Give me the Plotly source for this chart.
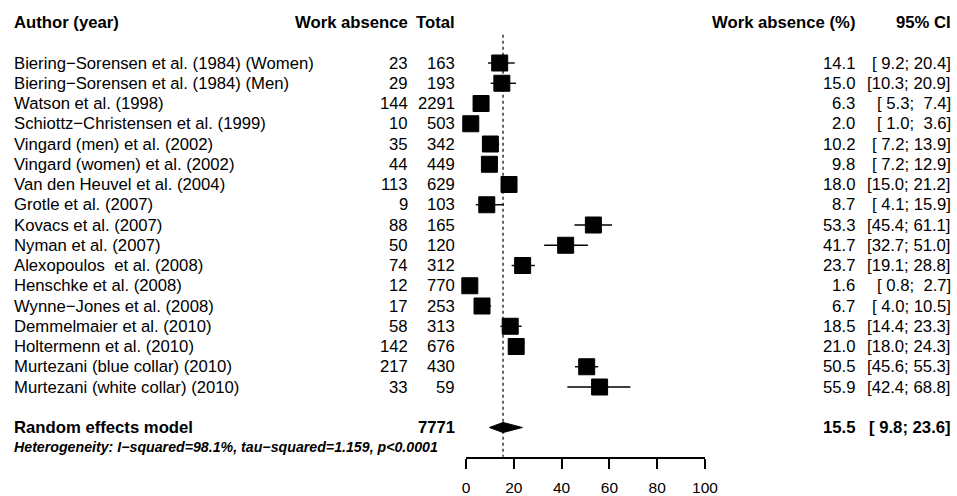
import plotly.graph_objects as go

authors = [
    "Biering\u2212Sorensen et al. (1984) (Women)",
    "Biering\u2212Sorensen et al. (1984) (Men)",
    "Watson et al. (1998)",
    "Schiottz\u2212Christensen et al. (1999)",
    "Vingard (men) et al. (2002)",
    "Vingard (women) et al. (2002)",
    "Van den Heuvel et al. (2004)",
    "Grotle et al. (2007)",
    "Kovacs et al. (2007)",
    "Nyman et al. (2007)",
    "Alexopoulos  et al. (2008)",
    "Henschke et al. (2008)",
    "Wynne\u2212Jones et al. (2008)",
    "Demmelmaier et al. (2010)",
    "Holtermenn et al. (2010)",
    "Murtezani (blue collar) (2010)",
    "Murtezani (white collar) (2010)",
]
events = [23, 29, 144, 10, 35, 44, 113, 9, 88, 50, 74, 12, 17, 58, 142, 217, 33]
totals = [163, 193, 2291, 503, 342, 449, 629, 103, 165, 120, 312, 770, 253, 313, 676, 430, 59]
pct = [14.1, 15.0, 6.3, 2.0, 10.2, 9.8, 18.0, 8.7, 53.3, 41.7, 23.7, 1.6, 6.7, 18.5, 21.0, 50.5, 55.9]
lower = [9.2, 10.3, 5.3, 1.0, 7.2, 7.2, 15.0, 4.1, 45.4, 32.7, 19.1, 0.8, 4.0, 14.4, 18.0, 45.6, 42.4]
upper = [20.4, 20.9, 7.4, 3.6, 13.9, 12.9, 21.2, 15.9, 61.1, 51.0, 28.8, 2.7, 10.5, 23.3, 24.3, 55.3, 68.8]

re_label = "Random effects model"
re_total = 7771
re_est = 15.5
re_lower = 9.8
re_upper = 23.6
heterogeneity = "Heterogeneity: I\u2212squared=98.1%, tau\u2212squared=1.159, p<0.0001"
headers = ["Author (year)", "Work absence", "Total", "Work absence (%)", "95% CI"]
x_ticks = [0, 20, 40, 60, 80, 100]

W, H = 957, 496
FONT = "Liberation Sans, Arial, Helvetica, sans-serif"
FS = 16.7
NB = "\u00a0"


def ci_str(lo, hi):
    a = f"{lo:4.1f}".replace(" ", NB)
    b = f"{hi:4.1f}".replace(" ", NB)
    return f"[{a};{NB}{b}]"


rows = list(range(len(authors)))
re_row = len(authors) + 1  # 18
het_row = re_row + 0.95

y_top = (0 - 63) / 20.25
y_bot = (H - 63) / 20.25

fig = go.Figure()

fig.add_trace(go.Scatter(
    x=pct, y=rows, mode="markers",
    marker=dict(symbol="square", size=16, color="black", line=dict(color="black", width=1)),
    error_x=dict(type="data", symmetric=False,
                 array=[u - p for u, p in zip(upper, pct)],
                 arrayminus=[p - l for p, l in zip(pct, lower)],
                 color="black", thickness=1.4, width=0),
    hoverinfo="skip", showlegend=False, cliponaxis=False,
))

h = 0.25
fig.add_trace(go.Scatter(
    x=[re_lower, re_est, re_upper, re_est, re_lower],
    y=[re_row, re_row - h, re_row, re_row + h, re_row],
    mode="lines", fill="toself", fillcolor="black",
    line=dict(color="black", width=1), hoverinfo="skip", showlegend=False,
))

fig.add_shape(type="line", xref="x", yref="y", x0=re_est, x1=re_est,
              y0=-1.4, y1=19.45, line=dict(color="black", width=1.2, dash="dot"))

x_author = 12 / W
x_events = 410 / W
x_total = 457 / W
x_pct = 857 / W
x_ci = 953 / W

ann = []


def add_text(x, y, text, anchor, bold=False, size=FS, italic=False):
    t = f"<b>{text}</b>" if bold else text
    if italic:
        t = f"<i>{t}</i>"
    ann.append(dict(x=x, y=y, xref="paper", yref="y", text=t, showarrow=False,
                    xanchor=anchor, yanchor="middle",
                    font=dict(family=FONT, size=size, color="black")))


hdr_row = -2.02
add_text(x_author, hdr_row, headers[0], "left", bold=True)
add_text(x_events, hdr_row, headers[1], "right", bold=True)
add_text(x_total, hdr_row, headers[2], "right", bold=True)
add_text(x_pct, hdr_row, headers[3], "right", bold=True)
add_text(x_ci, hdr_row, headers[4], "right", bold=True)

for i in rows:
    add_text(x_author, i, authors[i].replace("  ", NB + NB), "left")
    add_text(x_events, i, str(events[i]), "right")
    add_text(x_total, i, str(totals[i]), "right")
    add_text(x_pct, i, f"{pct[i]:.1f}", "right")
    add_text(x_ci, i, ci_str(lower[i], upper[i]), "right")

add_text(x_author, re_row, re_label, "left", bold=True)
add_text(x_total, re_row, str(re_total), "right", bold=True)
add_text(x_pct, re_row, f"{re_est:.1f}", "right", bold=True)
add_text(x_ci, re_row, ci_str(re_lower, re_upper), "right", bold=True)
add_text(x_author, het_row, heterogeneity, "left", bold=True, italic=True, size=14.2)

fig.update_layout(
    width=W, height=H,
    margin=dict(l=0, r=0, t=0, b=0, autoexpand=False),
    paper_bgcolor="white", plot_bgcolor="white",
    annotations=ann,
    xaxis=dict(domain=[466 / W, 705 / W], range=[0, 100], tickvals=x_ticks,
               showgrid=False, zeroline=False, showline=True, linecolor="black",
               linewidth=1.5, ticks="outside", ticklen=10, tickwidth=1.5,
               tickcolor="black", anchor="free", position=1 - 458 / H,
               tickfont=dict(family=FONT, size=15.5, color="black"),
               ticklabelstandoff=6, automargin=False),
    yaxis=dict(domain=[0, 1], range=[y_bot, y_top], visible=False,
               showgrid=False, zeroline=False, automargin=False),
    showlegend=False,
)

fig.write_html(
    "out.html",
    post_script="document.body.style.margin='0';document.body.style.overflow='hidden';",
    config={"displayModeBar": False},
)
